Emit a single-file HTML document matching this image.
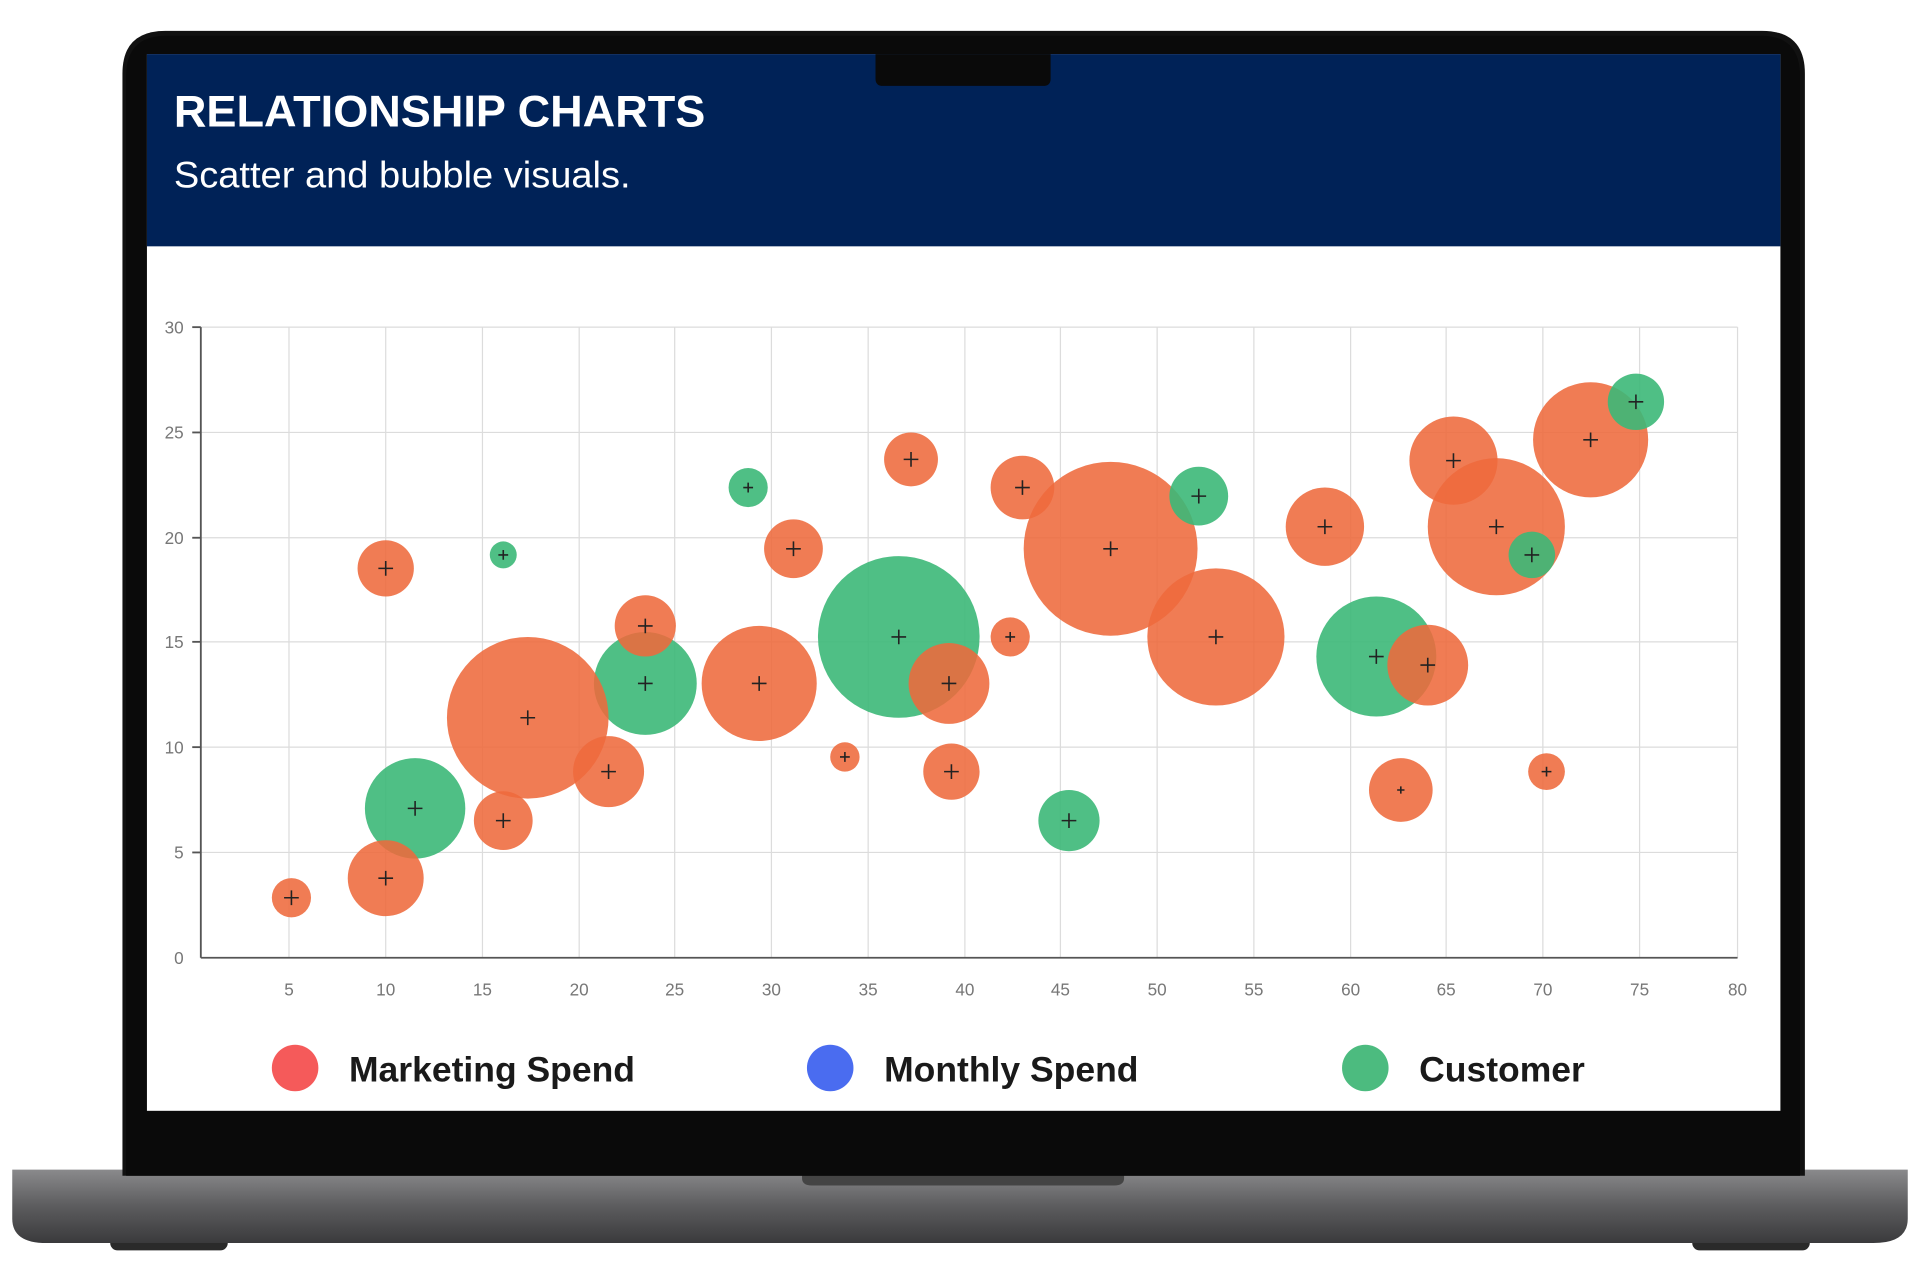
<!DOCTYPE html>
<html><head><meta charset="utf-8"><style>
html,body{margin:0;padding:0;background:#fff;width:1920px;height:1280px;overflow:hidden}
svg{display:block}
text{font-family:"Liberation Sans",sans-serif}
</style></head><body>
<svg width="1920" height="1280" viewBox="0 0 1568 1045" xmlns="http://www.w3.org/2000/svg">
<defs>
<linearGradient id="base" x1="0" y1="0" x2="0" y2="1">
<stop offset="0" stop-color="#8a8a8c"/><stop offset="0.5" stop-color="#5c5c5e"/><stop offset="1" stop-color="#3a3a3c"/>
</linearGradient>
</defs>
<rect x="90" y="1005" width="96" height="16" rx="6" fill="#2a2a2a"/>
<rect x="1382" y="1005" width="96" height="16" rx="6" fill="#2a2a2a"/>
<path d="M10 955 H1558 V995 Q1558 1015 1530 1015 H38 Q10 1015 10 995 Z" fill="url(#base)"/>
<path d="M655 955 H918 V962 Q918 968 910 968 H663 Q655 968 655 962 Z" fill="#444"/>
<path d="M100 960 V60 Q100 25 135 25 H1439 Q1474 25 1474 60 V960 Z" fill="#111"/>
<path d="M103 960 V62 Q103 29 136 29 H1438 Q1470 29 1470 62 V960 Z" fill="#0a0a0a"/>
<rect x="120" y="44" width="1334" height="863" fill="#ffffff"/>
<rect x="120" y="44" width="1334" height="157" fill="#002257"/>
<path d="M715 44 H858 V64 Q858 70 852 70 H721 Q715 70 715 64 Z" fill="#0a0a0a"/>
<text x="142" y="103" font-size="36" font-weight="bold" fill="#fff" textLength="434" lengthAdjust="spacingAndGlyphs">RELATIONSHIP CHARTS</text>
<text x="142" y="153" font-size="30" fill="#fff" textLength="373" lengthAdjust="spacingAndGlyphs">Scatter and bubble visuals.</text>
<g stroke="#dcdcdc" stroke-width="1">
<line x1="236" y1="267" x2="236" y2="782"/><line x1="315" y1="267" x2="315" y2="782"/>
<line x1="394" y1="267" x2="394" y2="782"/><line x1="473" y1="267" x2="473" y2="782"/>
<line x1="551" y1="267" x2="551" y2="782"/><line x1="630" y1="267" x2="630" y2="782"/>
<line x1="709" y1="267" x2="709" y2="782"/><line x1="788" y1="267" x2="788" y2="782"/>
<line x1="866" y1="267" x2="866" y2="782"/><line x1="945" y1="267" x2="945" y2="782"/>
<line x1="1024" y1="267" x2="1024" y2="782"/><line x1="1103" y1="267" x2="1103" y2="782"/>
<line x1="1181" y1="267" x2="1181" y2="782"/><line x1="1260" y1="267" x2="1260" y2="782"/>
<line x1="1339" y1="267" x2="1339" y2="782"/><line x1="1419" y1="267" x2="1419" y2="782"/>
<line x1="164" y1="267" x2="1419" y2="267"/><line x1="164" y1="353" x2="1419" y2="353"/>
<line x1="164" y1="439" x2="1419" y2="439"/><line x1="164" y1="524" x2="1419" y2="524"/>
<line x1="164" y1="610" x2="1419" y2="610"/><line x1="164" y1="696" x2="1419" y2="696"/>
</g>
<g stroke="#555" stroke-width="1.5">
<line x1="164" y1="267" x2="164" y2="782"/><line x1="164" y1="782" x2="1419" y2="782"/>
<line x1="157" y1="267" x2="164" y2="267"/><line x1="157" y1="353" x2="164" y2="353"/>
<line x1="157" y1="439" x2="164" y2="439"/><line x1="157" y1="524" x2="164" y2="524"/>
<line x1="157" y1="610" x2="164" y2="610"/><line x1="157" y1="696" x2="164" y2="696"/>
</g>
<g font-size="14" fill="#777" text-anchor="end">
<text x="150" y="272">30</text><text x="150" y="358">25</text><text x="150" y="444">20</text>
<text x="150" y="529">15</text><text x="150" y="615">10</text><text x="150" y="701">5</text><text x="150" y="787">0</text>
</g>
<g font-size="14" fill="#777" text-anchor="middle">
<text x="236" y="813">5</text><text x="315" y="813">10</text><text x="394" y="813">15</text><text x="473" y="813">20</text>
<text x="551" y="813">25</text><text x="630" y="813">30</text><text x="709" y="813">35</text><text x="788" y="813">40</text>
<text x="866" y="813">45</text><text x="945" y="813">50</text><text x="1024" y="813">55</text><text x="1103" y="813">60</text>
<text x="1181" y="813">65</text><text x="1260" y="813">70</text><text x="1339" y="813">75</text><text x="1419" y="813">80</text>
</g>
<g fill="#3cb878" fill-opacity="0.9">
<circle cx="339" cy="660" r="41"/><circle cx="411" cy="453" r="11"/><circle cx="527" cy="558" r="42"/>
<circle cx="611" cy="398" r="16"/><circle cx="734" cy="520" r="66"/><circle cx="873" cy="670" r="25"/>
<circle cx="1124" cy="536" r="49"/>
</g>
<g fill="#ee6a3c" fill-opacity="0.88">
<circle cx="238" cy="733" r="16"/><circle cx="315" cy="717" r="31"/><circle cx="315" cy="464" r="23"/>
<circle cx="411" cy="670" r="24"/><circle cx="431" cy="586" r="66"/><circle cx="497" cy="630" r="29"/>
<circle cx="527" cy="511" r="25"/><circle cx="620" cy="558" r="47"/><circle cx="648" cy="448" r="24"/>
<circle cx="690" cy="618" r="12"/><circle cx="744" cy="375" r="22"/><circle cx="775" cy="558" r="33"/>
<circle cx="777" cy="630" r="23"/><circle cx="825" cy="520" r="16"/><circle cx="835" cy="398" r="26"/>
<circle cx="907" cy="448" r="71"/><circle cx="993" cy="520" r="56"/><circle cx="1082" cy="430" r="32"/>
<circle cx="1144" cy="645" r="26"/><circle cx="1166" cy="543" r="33"/><circle cx="1187" cy="376" r="36"/>
<circle cx="1222" cy="430" r="56"/><circle cx="1263" cy="630" r="15"/><circle cx="1299" cy="359" r="47"/>
</g>
<g fill="#3cb878" fill-opacity="0.9">
<circle cx="979" cy="405" r="24"/><circle cx="1251" cy="453" r="19"/><circle cx="1336" cy="328" r="23"/>
</g>
<g stroke="#222" stroke-width="1.3" fill="none">
<path d="M232 733h12M238 727v12 M309 717h12M315 711v12 M309 464h12M315 458v12 M405 670h12M411 664v12 M425 586h12M431 580v12 M491 630h12M497 624v12 M521 511h12M527 505v12 M614 558h12M620 552v12 M642 448h12M648 442v12 M686 618h8M690 614v8 M738 375h12M744 369v12 M769 558h12M775 552v12 M771 630h12M777 624v12 M821 520h8M825 516v8 M829 398h12M835 392v12 M901 448h12M907 442v12 M987 520h12M993 514v12 M1076 430h12M1082 424v12 M1141 645h6M1144 642v6 M1160 543h12M1166 537v12 M1181 376h12M1187 370v12 M1216 430h12M1222 424v12 M1259 630h8M1263 626v8 M1293 359h12M1299 353v12"/>
<path d="M333 660h12M339 654v12 M407 453h8M411 449v8 M521 558h12M527 552v12 M607 398h8M611 394v8 M728 520h12M734 514v12 M867 670h12M873 664v12 M1118 536h12M1124 530v12 M973 405h12M979 399v12 M1245 453h12M1251 447v12 M1330 328h12M1336 322v12"/>
</g>
<circle cx="241" cy="872" r="19" fill="#f55a5a"/>
<circle cx="678" cy="872" r="19" fill="#4a6cf0"/>
<circle cx="1115" cy="872" r="19" fill="#4cbb7f"/>
<g font-size="29" font-weight="bold" fill="#1a1a1a">
<text x="285" y="883">Marketing Spend</text>
<text x="722" y="883">Monthly Spend</text>
<text x="1159" y="883">Customer</text>
</g>
</svg>
</body></html>
